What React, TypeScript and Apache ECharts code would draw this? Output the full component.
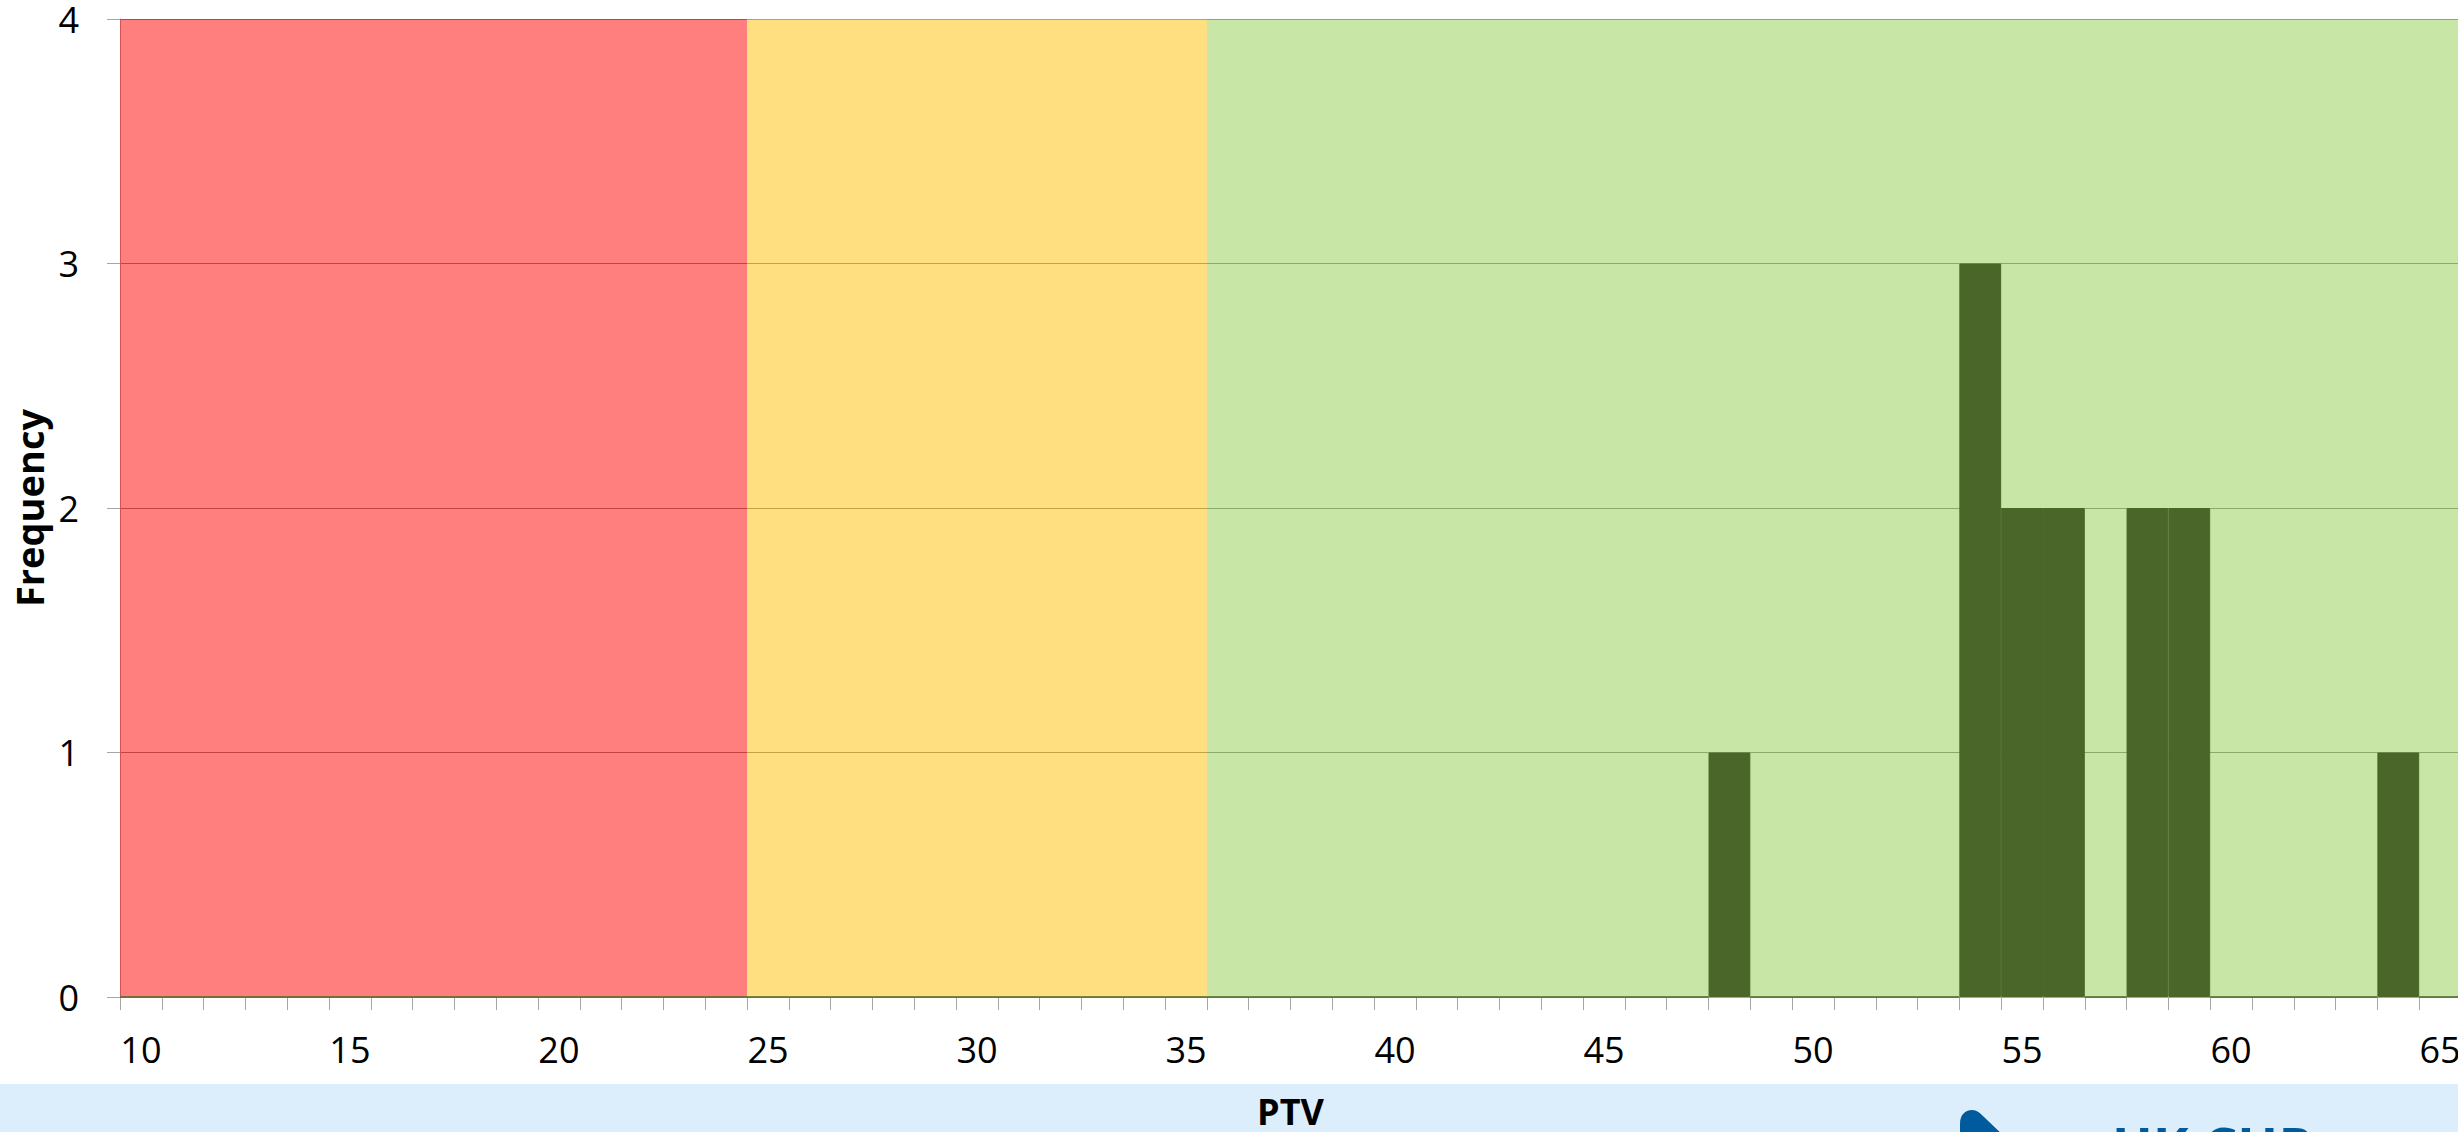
import React, { useEffect, useRef } from "react";
import * as echarts from "echarts";

// PTV bins (category axis) and their frequencies
const ptvBins: string[] = [
  "10", "11", "12", "13", "14", "15", "16", "17", "18", "19",
  "20", "21", "22", "23", "24", "25", "26", "27", "28", "29",
  "30", "31", "32", "33", "34", "35", "36", "37", "38", "39",
  "40", "41", "42", "43", "44", "45", "46", "47", "48", "49",
  "50", "51", "52", "53", "54", "55", "56", "57", "58", "59",
  "60", "61", "62", "63", "64", "65",
];
const frequency: number[] = [
  0, 0, 0, 0, 0, 0, 0, 0, 0, 0,
  0, 0, 0, 0, 0, 0, 0, 0, 0, 0,
  0, 0, 0, 0, 0, 0, 0, 0, 0, 0,
  0, 0, 0, 0, 0, 0, 0, 0, 1, 0,
  0, 0, 0, 0, 3, 2, 2, 0, 2, 2,
  0, 0, 0, 0, 1, 0,
];
// Zone edges on the PTV scale: red [10,25), amber [25,36), green [36,66)
const zoneEdges: number[] = [10, 25, 36, 66];
const yTicks: number[] = [0, 1, 2, 3, 4];

const FONT = "'Open Sans', 'Liberation Sans', sans-serif";
const zoneColors = ["rgba(255,0,0,0.5)", "rgba(255,192,0,0.5)", "rgba(146,208,80,0.5)"];
const BAR_COLOR = "#4A6628";

echarts.graphic.registerShape(
  "dropLogo",
  echarts.graphic.extendPath(
    "M 0 14 C 0 5 5 0 12 0 C 17 0 20 3 24 7 L 46 28 L 0 28 Z",
    {}
  )
);

export default function App() {
  const ref = useRef<HTMLDivElement>(null);
  useEffect(() => {
    if (!ref.current) return;
    const chart = echarts.init(ref.current, null, { renderer: "svg" });
    const yMax = yTicks[yTicks.length - 1];
    const zoneSeries = zoneColors.map((c, i) => ({
      name: "zone" + i,
      type: "line",
      xAxisIndex: 1,
      silent: true,
      z: 1,
      symbol: "none",
      lineStyle: { width: 0, opacity: 0 },
      areaStyle: { color: c, opacity: 1 },
      data: [
        [zoneEdges[i], yMax],
        [zoneEdges[i + 1], yMax],
      ],
    }));
    chart.setOption({
      animation: false,
      backgroundColor: "#ffffff",
      grid: {
        left: 120,
        top: 19,
        bottom: 135,
        width: 2341,
        containLabel: false,
        outerBoundsMode: "none",
      },
      xAxis: [
        {
          type: "category",
          data: ptvBins,
          boundaryGap: true,
          name: "PTV",
          nameLocation: "middle",
          nameGap: 96,
          nameTextStyle: { fontFamily: FONT, fontSize: 36, fontWeight: "bold", color: "#000" },
          axisLine: { show: true, lineStyle: { color: "#A6A6A6", width: 1 } },
          axisTick: { show: true, interval: 0, length: 13, alignWithLabel: false, lineStyle: { color: "#A6A6A6" } },
          axisLabel: { interval: 4, margin: 34, fontFamily: FONT, fontSize: 36, color: "#000" },
          splitLine: { show: false },
        },
        {
          type: "value",
          min: zoneEdges[0],
          max: zoneEdges[zoneEdges.length - 1],
          show: false,
          axisLine: { show: false },
          axisTick: { show: false },
          axisLabel: { show: false },
          splitLine: { show: false },
        },
      ],
      yAxis: {
        type: "value",
        min: yTicks[0],
        max: yMax,
        interval: 1,
        name: "Frequency",
        nameLocation: "middle",
        nameGap: 70,
        nameRotate: 90,
        nameTextStyle: { fontFamily: FONT, fontSize: 38, fontWeight: "bold", color: "#000" },
        axisLine: { show: true, lineStyle: { color: "#A6A6A6", width: 1 } },
        axisTick: { show: true, length: 13, lineStyle: { color: "#A6A6A6" } },
        axisLabel: { margin: 41, fontFamily: FONT, fontSize: 36, color: "#000" },
        splitLine: { show: true, lineStyle: { color: "#868686", width: 1 } },
      },
      series: [
        ...zoneSeries,
        {
          name: "Frequency",
          type: "bar",
          z: 3,
          barGap: "-100%",
          barCategoryGap: 0,
          itemStyle: { color: BAR_COLOR, borderColor: BAR_COLOR, borderWidth: 1 },
          data: frequency,
        },
      ],
      graphic: [
        {
          type: "rect",
          z: -1,
          silent: true,
          shape: { x: 0, y: 1084, width: 2458, height: 48 },
          style: { fill: "#DCEDFB" },
        },
        {
          type: "dropLogo",
          x: 1960,
          y: 1110,
          silent: true,
          style: { fill: "#005A9E" },
        },
        {
          type: "text",
          x: 2112,
          y: 1119,
          silent: true,
          style: {
            text: "UK CHP",
            fontFamily: FONT,
            fontSize: 54,
            fontWeight: "bold",
            fill: "#005A9E",
            textVerticalAlign: "top",
          },
        },
      ],
    });
    return () => chart.dispose();
  }, []);
  return (
    <div
      ref={ref}
      style={{ position: "fixed", left: 0, top: 0, width: 2458, height: 1132, overflow: "hidden" }}
    />
  );
}
